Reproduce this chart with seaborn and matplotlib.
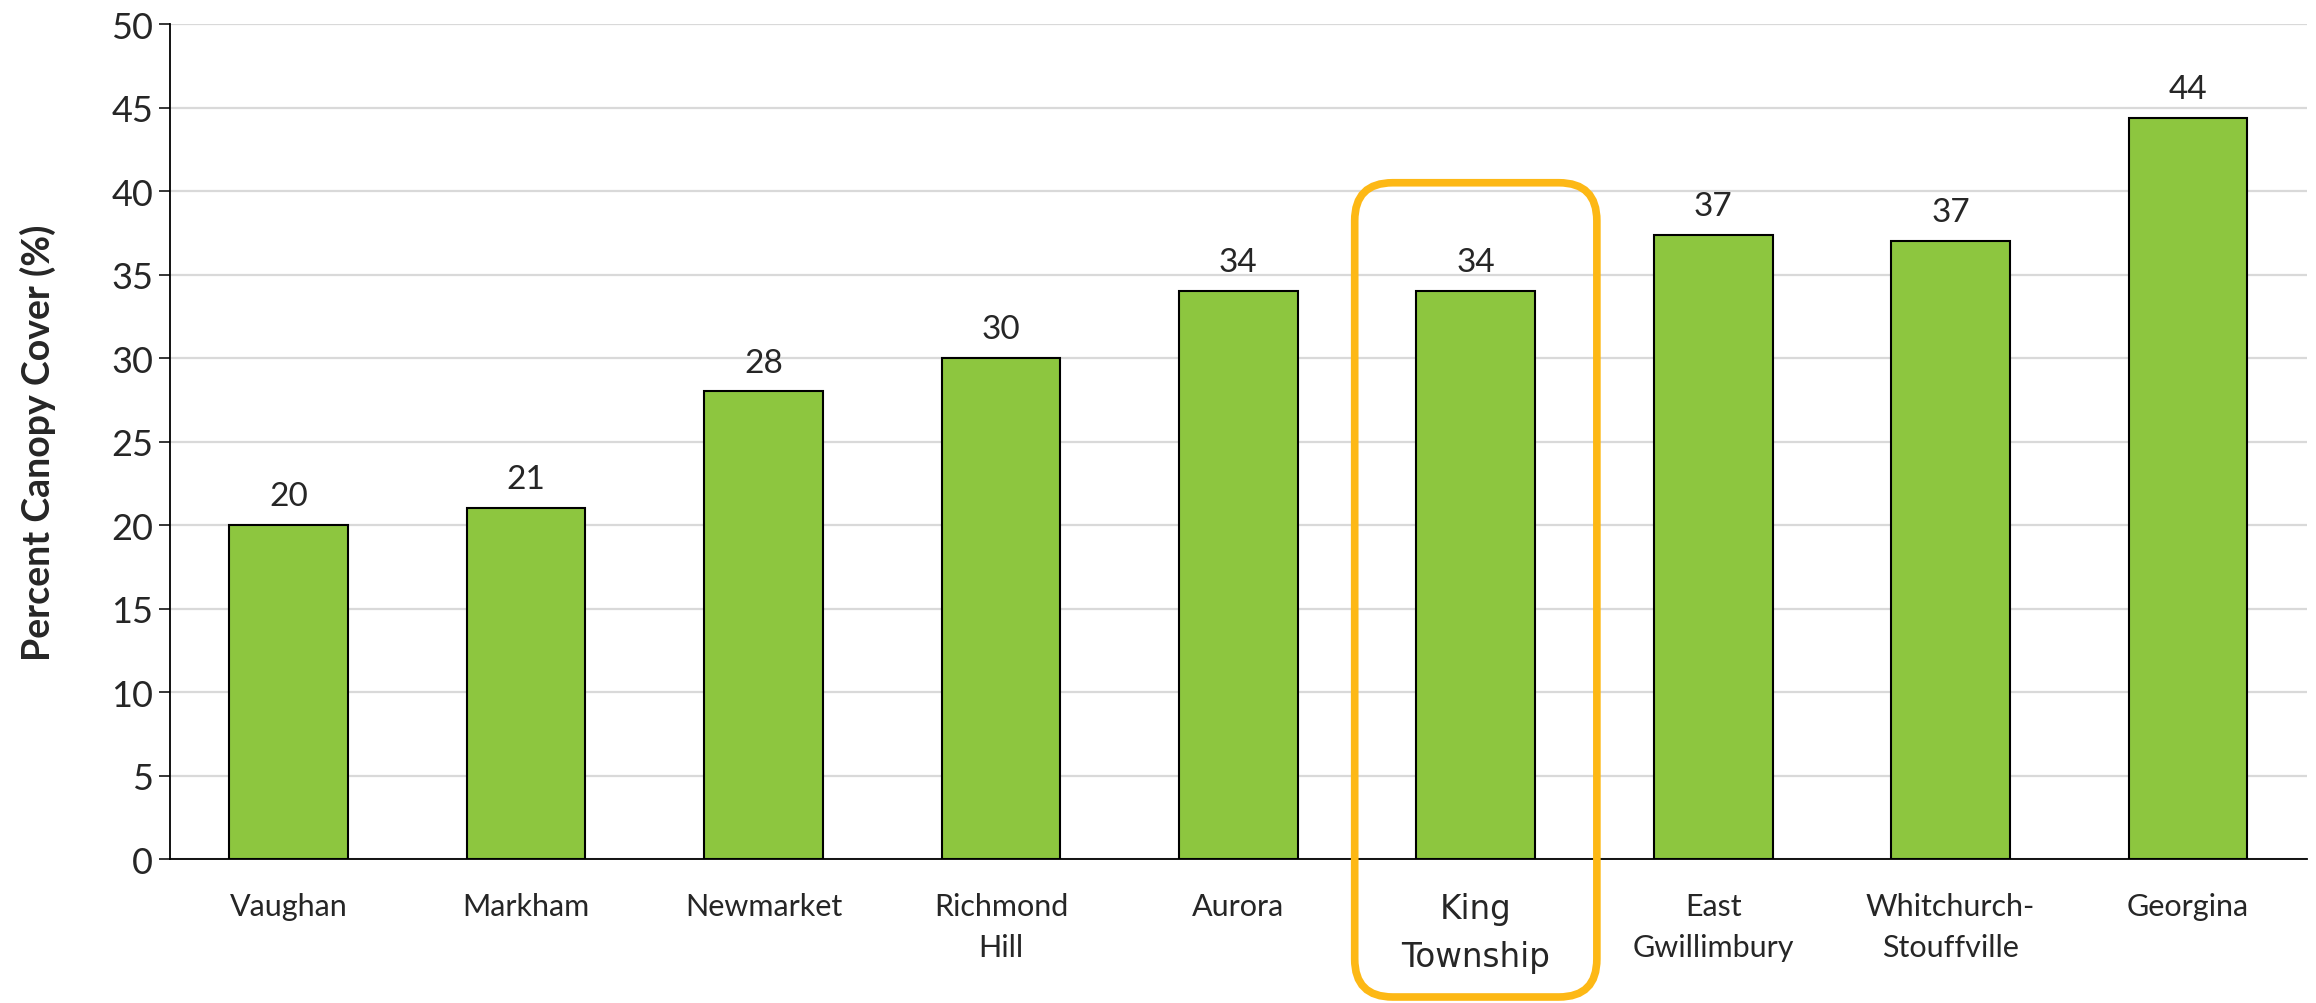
import matplotlib
matplotlib.use("Agg")
import matplotlib.pyplot as plt
import pandas as pd
import seaborn as sns
from matplotlib.patches import FancyBboxPatch
from matplotlib.transforms import IdentityTransform

# data
municipalities = ["Vaughan", "Markham", "Newmarket", "Richmond\nHill", "Aurora",
                  "King\nTownship", "East\nGwillimbury", "Whitchurch-\nStouffville", "Georgina"]
canopy_cover = [20.0, 21.0, 28.0, 30.0, 34.0, 34.0, 37.4, 37.0, 44.4]
highlight = "King\nTownship"

BAR_GREEN = "#8DC63F"
HIGHLIGHT_ORANGE = "#FDB815"

df = pd.DataFrame({"municipality": municipalities, "cover": canopy_cover})

sns.set_style("white")
plt.rcParams["font.family"] = ["Lato", "DejaVu Sans"]

fig = plt.figure(figsize=(23.16, 10.04), dpi=100)
ax = fig.add_axes([0.0734, 0.1434, 0.9226, 0.8316])

sns.barplot(df, x="municipality", y="cover", color=BAR_GREEN, width=0.5,
            edgecolor="black", linewidth=1.5, saturation=1, ax=ax)

ax.set_ylim(0, 50)
ax.set_xlim(-0.5, len(municipalities) - 0.5)
ax.set_yticks(range(0, 51, 5))
ax.yaxis.grid(True, color="#D9D9D9", linewidth=1.6)
ax.set_axisbelow(True)

for side in ["top", "right"]:
    ax.spines[side].set_visible(False)
ax.spines["left"].set_color("#000000")
ax.spines["bottom"].set_color("#000000")
ax.spines["left"].set_linewidth(1.3)
ax.spines["bottom"].set_linewidth(1.3)

ax.tick_params(axis="y", labelsize=26, length=8, width=1.3, left=True, direction="out", pad=4)
ax.tick_params(axis="x", labelsize=22, length=0, pad=24)
ax.set_xlabel("")
ax.set_ylabel("Percent Canopy Cover (%)", fontsize=27, fontweight="bold", labelpad=40)

for lbl in ax.get_xticklabels():
    lbl.set_linespacing(1.55)
    if lbl.get_text() == highlight:
        lbl.set_family(["DejaVu Sans"])
        lbl.set_fontsize(23.5)

for cont in ax.containers:
    ax.bar_label(cont, labels=[f"{v:.0f}" for v in canopy_cover], padding=10, fontsize=24)

# rounded highlight box around the King Township column, in pixel coordinates
fig.canvas.draw()
idx = municipalities.index(highlight)
x0, y_top = ax.transData.transform((idx - 0.51, 40.5))
x1, _ = ax.transData.transform((idx + 0.51, 0))
y_bot = 6
box = FancyBboxPatch((x0, y_bot), x1 - x0, y_top - y_bot,
                     boxstyle="round,pad=0,rounding_size=38",
                     transform=IdentityTransform(), fill=False,
                     edgecolor=HIGHLIGHT_ORANGE, linewidth=5.5, clip_on=False)
fig.patches.append(box)

fig.savefig("out.png", dpi=100)
plt.close(fig)
